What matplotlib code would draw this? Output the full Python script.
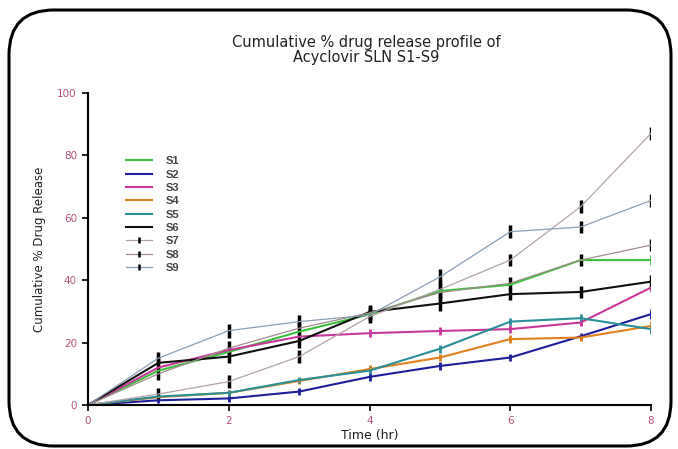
import matplotlib
matplotlib.use('Agg')
import matplotlib.pyplot as plt
from matplotlib.patches import FancyBboxPatch
from matplotlib.lines import Line2D

plt.rcParams['font.family'] = ['Liberation Sans', 'DejaVu Sans']

# time points (hr)
time = [0, 1, 2, 3, 4, 5, 6, 7, 8]

# cumulative % drug release
s1 = [0, 11.0, 17.0, 23.5, 29.0, 36.5, 38.5, 46.4, 46.4]
s2 = [0, 1.5, 2.1, 4.3, 9.0, 12.5, 15.2, 22.0, 29.1]
s3 = [0, 12.0, 17.6, 21.9, 23.0, 23.7, 24.3, 26.4, 37.6]
s4 = [0, 2.5, 3.9, 7.7, 11.5, 15.2, 21.1, 21.6, 25.3]
s5 = [0, 2.7, 3.9, 8.0, 11.0, 18.0, 26.7, 27.8, 24.3]
s6 = [0, 13.5, 15.5, 20.5, 29.8, 32.5, 35.5, 36.2, 39.5]
s7 = [0, 3.5, 7.5, 15.5, 28.3, 37.0, 46.4, 63.5, 87.0]
s8 = [0, 10.0, 18.2, 24.6, 29.5, 36.0, 39.0, 46.4, 51.2]
s9 = [0, 15.0, 23.8, 26.7, 28.8, 41.0, 55.5, 57.0, 65.5]

# approximate error bar half-widths
err_small = [0, 1.0, 1.0, 1.0, 1.2, 1.2, 1.2, 1.2, 1.5]
err_big = [0, 2.0, 2.2, 2.2, 2.2, 2.5, 2.0, 2.0, 2.0]

fig = plt.figure(figsize=(6.78, 4.49), dpi=100)
ax = fig.add_axes([0.1298, 0.098, 0.8304, 0.6955])

handles = []

# colored series (solid, thicker)
solid = [
    ('S1', s1, '#3cbf3c'),
    ('S2', s2, '#1e1e9c'),
    ('S3', s3, '#c8389a'),
    ('S4', s4, '#e0801e'),
    ('S5', s5, '#2a8f96'),
    ('S6', s6, '#111111'),
]
for name, vals, col in solid:
    is_black = name == 'S6'
    ax.errorbar(time, vals, yerr=err_big if is_black else err_small,
                color=col, lw=1.5, elinewidth=2.5 if is_black else 2.0,
                ecolor='black' if is_black else col, capsize=0)
    handles.append(Line2D([], [], color=col, lw=1.5, label=name))

# thin grey series with black error ticks
thin = [
    ('S7', s7, '#b3a3ab'),
    ('S8', s8, '#a08c8c'),
    ('S9', s9, '#8c9fb3'),
]
for name, vals, col in thin:
    ax.errorbar(time, vals, yerr=err_big, color=col, lw=0.9,
                elinewidth=2.5, ecolor='black', capsize=0)
    handles.append(Line2D([], [], color=col, lw=0.9, marker='|',
                          markersize=4, markeredgewidth=1.8,
                          markeredgecolor='black', label=name))

ax.set_xlim(0, 8)
ax.set_ylim(0, 100)
ax.set_xticks([0, 2, 4, 6, 8])
ax.set_yticks([0, 20, 40, 60, 80, 100])
ax.spines['top'].set_visible(False)
ax.spines['right'].set_visible(False)
ax.spines['left'].set_linewidth(1.5)
ax.spines['bottom'].set_linewidth(1.5)
ax.tick_params(direction='out', length=4, width=1.2, labelsize=7.5,
               labelcolor='#b8507e', pad=4)
for lbl in ax.get_xticklabels() + ax.get_yticklabels():
    lbl.set_family('DejaVu Sans')

ax.set_xlabel('Time (hr)', fontsize=9, color='#222222', labelpad=2,
              family='DejaVu Sans')
ax.set_ylabel('Cumulative % Drug Release', fontsize=8.5, color='#222222',
              labelpad=8, family='DejaVu Sans')

leg = ax.legend(handles=handles, loc='upper left',
                bbox_to_anchor=(0.06, 0.811), frameon=False,
                fontsize=8, handlelength=2.3, labelspacing=0.3,
                handletextpad=1.3, borderaxespad=0)
for t in leg.get_texts():
    t.set_color('#444444')
    t.set_fontweight('bold')

fig.text(0.54, 0.889, 'Cumulative % drug release profile of\nAcyclovir SLN S1-S9',
         ha='center', va='center', fontsize=10.5, color='#222222',
         linespacing=1.05, family='DejaVu Sans')

# rounded frame around the whole figure
frame = FancyBboxPatch((0.09, 0.03), 6.62, 4.36,
                       boxstyle='round,pad=0,rounding_size=0.45',
                       transform=fig.dpi_scale_trans, fill=False,
                       edgecolor='black', lw=2.2)
fig.patches.append(frame)

fig.savefig('out.png', dpi=100)
